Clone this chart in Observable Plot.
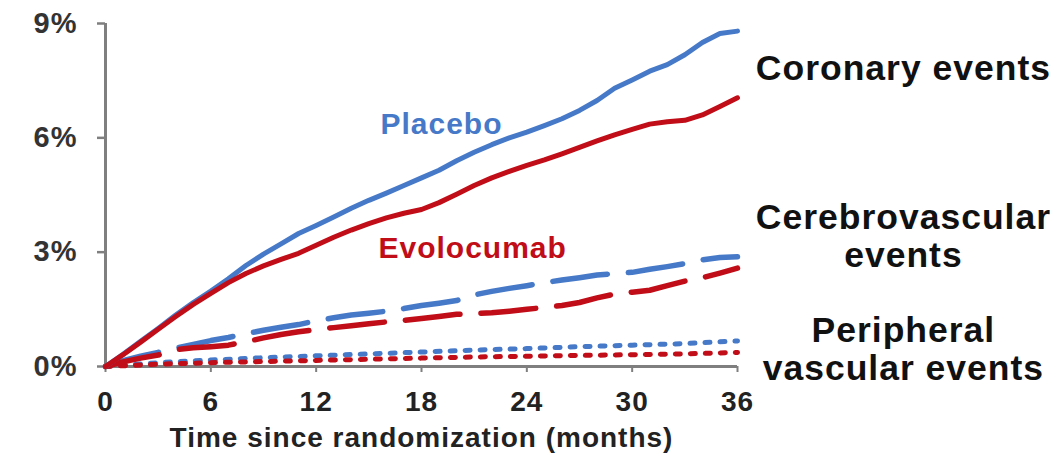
<!DOCTYPE html>
<html>
<head>
<meta charset="utf-8">
<script src="https://cdn.jsdelivr.net/npm/d3@7"></script>
<script src="https://cdn.jsdelivr.net/npm/@observablehq/plot@0.6"></script>
<style>
  html, body { margin: 0; padding: 0; background: #fff; }
  #chart svg text { letter-spacing: 1px; }
</style>
</head>
<body>
<div id="chart"></div>
<script>
// ---- Data ----
const months = [0,1,2,3,4,5,6,7,8,9,10,11,12,13,14,15,16,17,18,19,20,21,22,23,24,25,26,27,28,29,30,31,32,33,34,35,36];
const coronaryPlacebo = [0,0.32,0.66,1.0,1.35,1.68,1.98,2.3,2.65,2.95,3.22,3.49,3.7,3.92,4.15,4.36,4.55,4.75,4.95,5.15,5.4,5.62,5.82,6.0,6.15,6.32,6.5,6.72,6.98,7.3,7.52,7.75,7.92,8.18,8.5,8.74,8.8];
const coronaryEvolocumab = [0,0.31,0.64,0.98,1.31,1.63,1.92,2.2,2.44,2.64,2.81,2.97,3.18,3.39,3.58,3.75,3.9,4.02,4.12,4.3,4.52,4.75,4.95,5.12,5.28,5.42,5.58,5.75,5.92,6.08,6.22,6.36,6.42,6.46,6.6,6.82,7.05];
const cerebroPlacebo = [0,0.15,0.27,0.37,0.48,0.58,0.68,0.76,0.86,0.95,1.03,1.1,1.2,1.28,1.35,1.4,1.45,1.52,1.6,1.66,1.73,1.88,1.97,2.05,2.12,2.2,2.27,2.33,2.4,2.44,2.47,2.55,2.62,2.7,2.8,2.86,2.88];
const cerebroEvolocumab = [0,0.12,0.22,0.3,0.44,0.49,0.52,0.56,0.65,0.75,0.84,0.91,0.97,1.02,1.07,1.12,1.17,1.21,1.26,1.31,1.37,1.39,1.41,1.45,1.5,1.55,1.6,1.68,1.8,1.9,1.95,2.0,2.12,2.24,2.33,2.45,2.58];
const periphMonths = [0,3,6,9,12,15,18,21,24,27,30,33,36];
const periphPlacebo = [0,0.1,0.17,0.23,0.28,0.33,0.38,0.43,0.47,0.52,0.56,0.6,0.67];
const periphEvolocumab = [0,0.06,0.1,0.13,0.16,0.19,0.22,0.25,0.27,0.29,0.31,0.33,0.37];

const xTicks = [0,6,12,18,24,30,36];
const yTicks = [0,3,6,9];
const xTitle = "Time since randomization (months)";
const treatmentLabels = ["Placebo", "Evolocumab"];
const outcomeLabels = ["Coronary events", "Cerebrovascular", "events", "Peripheral", "vascular events"];

// ---- Build tables ----
const BLUE = "#4679c8", RED = "#c00d17";
const toRows = (xs, ys, arm) => xs.map((m, i) => ({month: m, value: ys[i], arm}));
const coronary = [...toRows(months, coronaryPlacebo, "Placebo"), ...toRows(months, coronaryEvolocumab, "Evolocumab")];
const cerebro = [...toRows(months, cerebroPlacebo, "Placebo"), ...toRows(months, cerebroEvolocumab, "Evolocumab")];
const periph = [...toRows(periphMonths, periphPlacebo, "Placebo"), ...toRows(periphMonths, periphEvolocumab, "Evolocumab")];
const color = {type: "ordinal", domain: ["Placebo", "Evolocumab"], range: [BLUE, RED]};

const font = "'Liberation Sans', Arial, Helvetica, sans-serif";

const treatText = [
  {t: treatmentLabels[0], x: 15.66, y: 6.11, arm: "Placebo"},
  {t: treatmentLabels[1], x: 15.55, y: 2.834, arm: "Evolocumab"}
];
const outcomeText = [
  {t: outcomeLabels[0], y: 7.53},
  {t: outcomeLabels[1], y: 3.595},
  {t: outcomeLabels[2], y: 2.598},
  {t: outcomeLabels[3], y: 0.63},
  {t: outcomeLabels[4], y: -0.367}
];

const chart = Plot.plot({
  width: 1061,
  height: 457,
  marginLeft: 105,
  marginRight: 324,
  marginTop: 23,
  marginBottom: 91,
  x: {domain: [0, 36]},
  y: {domain: [0, 9]},
  color,
  style: {fontFamily: font, background: "#fff"},
  marks: [
    Plot.axisY({ticks: yTicks, tickFormat: d => d + "%", tickSize: 8, tickPadding: 20,
      fontSize: 29, fontWeight: "bold", stroke: "#7f7f7f", strokeWidth: 2.5, fill: "#333", label: null}),
    Plot.axisX({ticks: xTicks, tickFormat: d => String(d), tickSize: 6, tickPadding: 19,
      fontSize: 28, fontWeight: "bold", stroke: "#7f7f7f", strokeWidth: 2, fill: "#222", label: null}),
    Plot.ruleX([0], {stroke: "#7f7f7f", strokeWidth: 3}),
    Plot.ruleY([0], {stroke: "#7f7f7f", strokeWidth: 3}),
    Plot.line(periph, {x: "month", y: "value", z: "arm", stroke: "arm", strokeWidth: 5, strokeDasharray: "5,10"}),
    Plot.line(cerebro, {x: "month", y: "value", z: "arm", stroke: "arm", strokeWidth: 5.5, strokeDasharray: "55,21"}),
    Plot.line(coronary, {x: "month", y: "value", z: "arm", stroke: "arm", strokeWidth: 5}),
    Plot.text(treatText, {x: "x", y: "y", text: "t", fill: "arm", textAnchor: "start", lineAnchor: "bottom",
      fontSize: 30, fontWeight: "bold"}),
    Plot.text(outcomeText, {x: () => 45.45, y: "y", text: "t", fill: "#111", textAnchor: "middle", lineAnchor: "bottom",
      fontSize: 35.5, fontWeight: "bold"}),
    Plot.text([xTitle], {x: () => 18, y: () => -2.125, text: d => d, fill: "#222", textAnchor: "middle", lineAnchor: "bottom",
      fontSize: 28, fontWeight: "bold"})
  ]
});
document.getElementById("chart").appendChild(chart);
</script>
</body>
</html>
